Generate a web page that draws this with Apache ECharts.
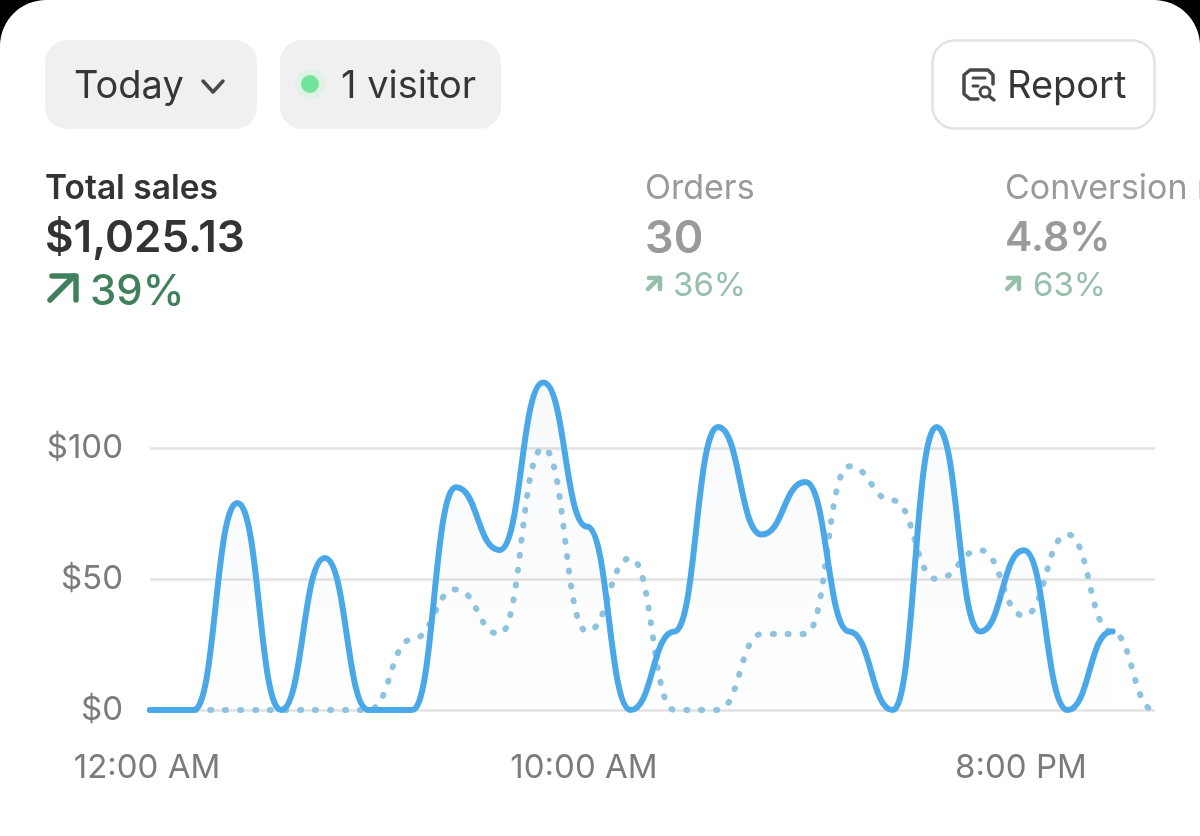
<!DOCTYPE html>
<html><head><meta charset="utf-8">
<style>html,body{margin:0;padding:0;background:#000}#c{width:1200px;height:836px}</style>
<script src="https://cdn.jsdelivr.net/npm/echarts@6/dist/echarts.min.js"></script>
</head><body><div id="c"></div>
<script>
const hours = ['12:00 AM','1:00 AM','2:00 AM','3:00 AM','4:00 AM','5:00 AM','6:00 AM','7:00 AM','8:00 AM','9:00 AM','10:00 AM','11:00 AM','12:00 PM','1:00 PM','2:00 PM','3:00 PM','4:00 PM','5:00 PM','6:00 PM','7:00 PM','8:00 PM','9:00 PM','10:00 PM','11:00 PM'];
const todaySales = [0,0,79,0,58,0,0,85,61,125,70,0,30,108,67,87,30,0,108,30,61,0,30];
const comparisonSales = [0,0,0,0,0,0,27,46,29,100,30,58,0,0,29,29,93,80,50,61,36,67,30,0];
const FONT = 'Inter';
const INK = '#363636', MUTED = '#9a9a9a';
// pairs of [hour, value]; a held end point keeps the last curve segment flat on arrival
function seriesPoints(values, endOffset) {
  const pts = values.map((v, i) => [i, v]);
  const last = values.length - 1;
  if (endOffset > 0) pts.push([last + endOffset, values[last]]);
  else pts.splice(last, 0, [last + endOffset, values[last]]);
  return pts;
}
function txt(x, y, text, size, fill, weight) {
  return {type:'text', x, y, style:{text, fontFamily:FONT, fontSize:size, fontWeight:weight||400, fill, textVerticalAlign:'middle'}, z:5};
}
function arrow(x0, y0, s, color, w) {
  return {type:'polyline', z:5, shape:{points:[[x0,y0],[x0+s,y0-s]]}, style:{stroke:color, lineWidth:w, lineCap:'round', fill:null}};
}
function head(x0, y0, s, color, w) {
  return {type:'polyline', z:5, shape:{points:[[x0,y0],[x0+s,y0],[x0+s,y0+s]]}, style:{stroke:color, lineWidth:w, lineCap:'round', lineJoin:'round', fill:null}};
}
const chart = echarts.init(document.getElementById('c'));
chart.setOption({
  animation:false,
  backgroundColor:'#000',
  grid:{left:150, right:45, top:317, bottom:126},
  xAxis:{type:'value', min:0, max:23, interval:10, splitLine:{show:false},
    axisLine:{show:false}, axisTick:{show:false},
    axisLabel:{showMaxLabel:false, fontFamily:FONT, fontSize:33, color:'#7b7b7b', margin:42, padding:[0,6,0,0],
      formatter:v => hours[v]}},
  yAxis:{type:'value', min:0, max:150, interval:50,
    axisLine:{show:false}, axisTick:{show:false},
    splitLine:{showMaxLine:false, lineStyle:{color:'#e2e2e2', width:2.5}},
    axisLabel:{showMaxLabel:false, fontFamily:FONT, fontSize:33, color:'#7b7b7b', margin:27, padding:[3,0,0,0], formatter:'${value}'}},
  series:[
    {type:'line', name:'Previous', data:seriesPoints(comparisonSales,-0.02), smooth:0.5, smoothMonotone:'x', showSymbol:false, z:3,
     lineStyle:{color:'#8ec3e0', width:6, type:[1,14], cap:'round'}},
    {type:'line', name:'Today', data:seriesPoints(todaySales,0.03), smooth:0.5, smoothMonotone:'x', showSymbol:false, z:4,
     lineStyle:{color:'#4ba8e8', width:6, cap:'round'},
     areaStyle:{color:{type:'linear',x:0,y:0,x2:0,y2:1,colorStops:[{offset:0,color:'rgba(150,165,190,0.09)'},{offset:1,color:'rgba(150,165,190,0.01)'}]}}}
  ],
  graphic:[
    {type:'rect', z:-10, silent:true, shape:{x:0,y:0,width:1200,height:900,r:[46,46,0,0]}, style:{fill:'#fff'}},
    {type:'rect', z:1, shape:{x:45,y:40,width:212,height:89,r:22}, style:{fill:'#f0f0f0'}},
    {type:'rect', z:1, shape:{x:280,y:40,width:221,height:89,r:22}, style:{fill:'#f0f0f0'}},
    {type:'rect', z:1, shape:{x:932.5,y:40.5,width:222,height:88,r:22}, style:{fill:'#fff',stroke:'#e3e3e3',lineWidth:2.5}},
    txt(74,87,'Today',38,INK),
    {type:'polyline', z:5, shape:{points:[[203,81],[213,92],[223,81]]}, style:{stroke:'#484848',lineWidth:3.5,lineCap:'round',lineJoin:'round',fill:null}},
    {type:'circle', z:2, shape:{cx:310,cy:84,r:15}, style:{fill:'#dff2e5'}},
    {type:'circle', z:3, shape:{cx:310,cy:84,r:9}, style:{fill:'#72e39a'}},
    txt(341,87,'1 visitor',38,INK),
    // report icon
    {type:'polyline', z:5, shape:{points:[[978,99],[970,99],[964,94],[964,75],[970,70],[988,70],[993,75],[993,84]]}, style:{stroke:'#484848',lineWidth:3.5,lineCap:'round',lineJoin:'round',fill:null}},
    {type:'line', z:5, shape:{x1:973,y1:78,x2:985,y2:78}, style:{stroke:'#484848',lineWidth:3,lineCap:'round'}},
    {type:'line', z:5, shape:{x1:973,y1:86,x2:978,y2:86}, style:{stroke:'#484848',lineWidth:3,lineCap:'round'}},
    {type:'circle', z:5, shape:{cx:985,cy:92,r:5}, style:{fill:'#fff',stroke:'#484848',lineWidth:3}},
    {type:'line', z:5, shape:{x1:989,y1:96,x2:994,y2:100}, style:{stroke:'#484848',lineWidth:3.5,lineCap:'round'}},
    txt(1007,87,'Report',38,INK),

    txt(45,189,'Total sales',33.5,'#333',600),
    txt(45,239,'$1,025.13',44,'#333',600),
    arrow(50,300,24,'#40805c',5.5), head(52,276,24,'#40805c',5.5),
    txt(90,292,'39%',42,'#40805c',500),

    txt(645,189,'Orders',34,MUTED),
    txt(645,239,'30',45,MUTED,600),
    arrow(648,289,11,'#95bfa9',4.5), head(649,278,11,'#95bfa9',4.5),
    txt(673,286,'36%',33,'#95bfa9'),

    txt(1005,189,'Conversion rate',34,MUTED),
    txt(1005,239,'4.8%',41,MUTED,600),
    arrow(1007,289,11,'#95bfa9',4.5), head(1008,278,11,'#95bfa9',4.5),
    txt(1033,286,'63%',33,'#95bfa9')
  ]
});
</script></body></html>
